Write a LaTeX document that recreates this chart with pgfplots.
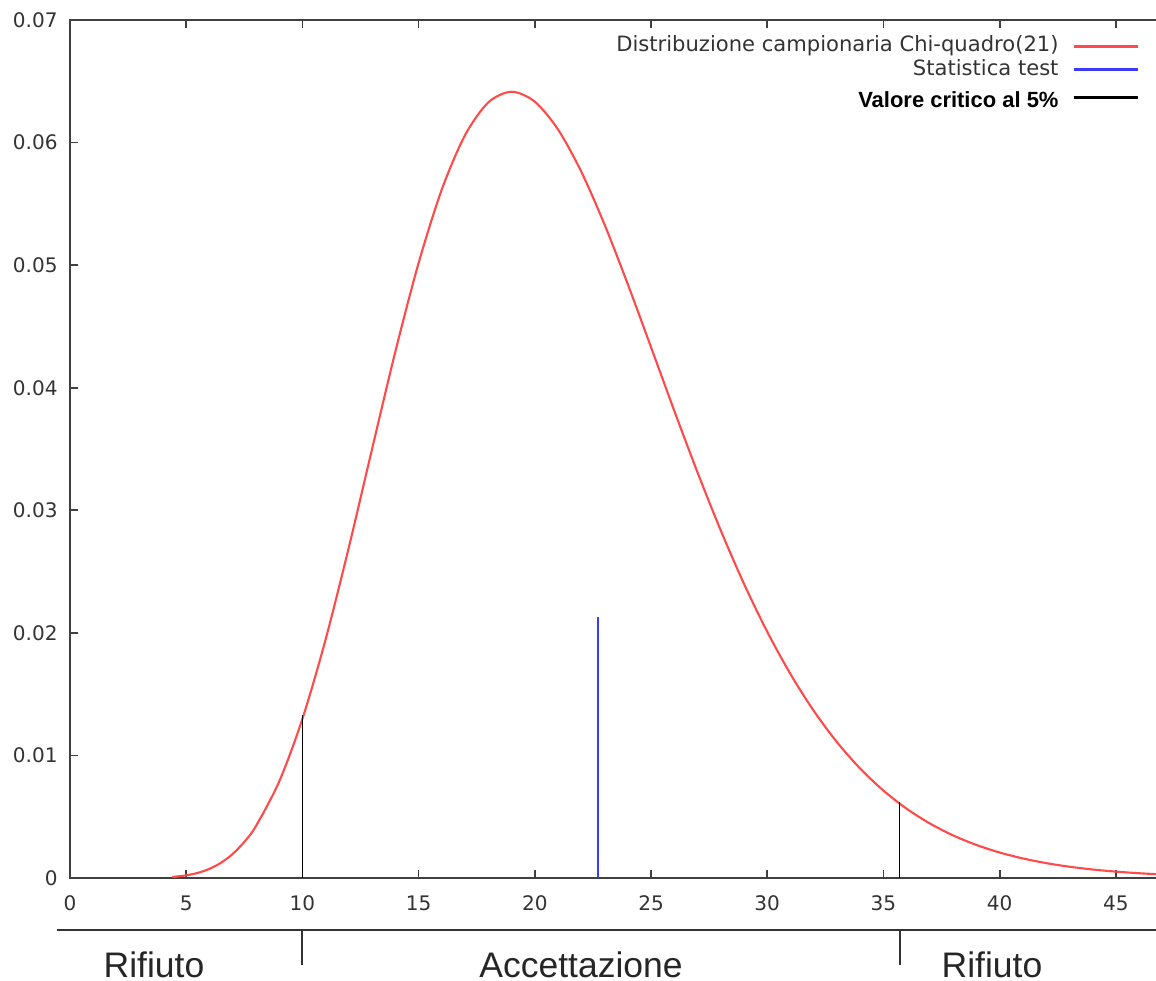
\documentclass[border=0pt]{standalone}
\usepackage{pgfplots}
\pgfplotsset{compat=1.18}
\usepackage{fontspec}
\setmainfont{DejaVu Sans}
\newfontfamily\arialfont{Liberation Sans}
\definecolor{curvered}{HTML}{FF4A4A}
\definecolor{testblue}{HTML}{3A3AFF}
\definecolor{axisgray}{HTML}{404040}
\definecolor{labelgray}{HTML}{333333}

\begin{document}
\begin{tikzpicture}
% page = the reference frame, 1px = 0.01cm; the right spine falls outside it
\useasboundingbox (-0.70,-1.02) rectangle (10.86,8.78);
\begin{axis}[
  at={(0,0)}, anchor=south west,
  scale only axis,
  width=11.039cm, height=8.58cm,
  xmin=0, xmax=47.5, ymin=0, ymax=0.07,
  xtick={0,5,10,15,20,25,30,35,40,45},
  ytick={0,0.01,0.02,0.03,0.04,0.05,0.06,0.07},
  scaled y ticks=false,
  yticklabel style={/pgf/number format/.cd, fixed, precision=2},
  xticklabel style={yshift=-0.05cm},
  /pgf/number format/assume math mode=true,
  tick align=inside,
  xtick pos=both, ytick pos=left,
  major tick length=0.08cm,
  axis line style={draw=axisgray, line width=0.6pt},
  tick style={draw=axisgray, line width=0.5pt},
  tick label style={font=\fontsize{5.7}{6.5}\selectfont, text=labelgray},
  legend plot pos=right,
  legend cell align=right,
  legend image code/.code={\draw[#1,line width=0.8pt] (0cm,0cm) -- (0.64cm,0cm);},
  legend style={draw=none, fill=none, inner sep=0pt,
    at={(rel axis cs:0.9693,0.9825)}, anchor=north east,
    nodes={inner sep=0pt}, column sep=0.14cm,
    font=\fontsize{6}{7}\selectfont, text=labelgray, row sep=0.6pt},
]
\addplot[curvered, line width=0.6pt, smooth] coordinates {
  (4.4,0.0000875) (4.5,0.000103) (5,0.000218) (5.5,0.000421) (6,0.000749)
  (6.5,0.001248) (7,0.001965) (7.5,0.002947) (8,0.004237) (9,0.007867)
  (10,0.012983) (11,0.019474) (12,0.026997) (13,0.035025) (14,0.042954)
  (15,0.050177) (16,0.056186) (17,0.060616) (18,0.063280) (19,0.064149)
  (20,0.063338) (21,0.061070) (22,0.057626) (23,0.053317) (24,0.048453)
  (25,0.043311) (26,0.038130) (27,0.033100) (28,0.028362) (29,0.024008)
  (30,0.020094) (31,0.016643) (32,0.013647) (33,0.011089) (34,0.008931)
  (35,0.007134) (36,0.005655) (37,0.004450) (38,0.003477) (39,0.002699)
  (40,0.002082) (41,0.001597) (42,0.001218) (43,0.000924) (44,0.000697)
  (45,0.000523) (46,0.000391) (47,0.000291) (47.5,0.000251)};
\addlegendentry{Distribuzione campionaria Chi-quadro(21)}
\addplot[testblue, line width=0.6pt] coordinates {(22.72,0) (22.72,0.0213)};
\addlegendentry{Statistica test}
\addplot[black, line width=0.45pt] coordinates {(10,0) (10,0.0133)};
\addlegendentry{\rule{0pt}{7pt}\textcolor{black}{\arialfont\bfseries\fontsize{6.25}{7}\selectfont Valore critico al 5\%}}
\addplot[black, line width=0.45pt, forget plot] coordinates {(35.7,0) (35.7,0.0062)};
\coordinate (c1) at (axis cs:10,0);
\coordinate (c2) at (axis cs:35.7,0);
\end{axis}
% acceptance / rejection band under the axis
\draw[labelgray, line width=0.6pt] (-0.13,-0.52) -- (11.2,-0.52);
\draw[labelgray, line width=0.6pt] (c1 |- 0,-0.52) -- (c1 |- 0,-0.87);
\draw[labelgray, line width=0.6pt] (c2 |- 0,-0.52) -- (c2 |- 0,-0.87);
\begin{scope}[every node/.style={anchor=base, inner sep=0pt, text=black!85,
    font=\arialfont\fontsize{10.1}{12}\selectfont}]
  \node at (0.84,-0.99) {Rifiuto};
  \node at (5.11,-0.99) {Accettazione};
  \node at (9.22,-0.99) {Rifiuto};
\end{scope}
\end{tikzpicture}
\end{document}
